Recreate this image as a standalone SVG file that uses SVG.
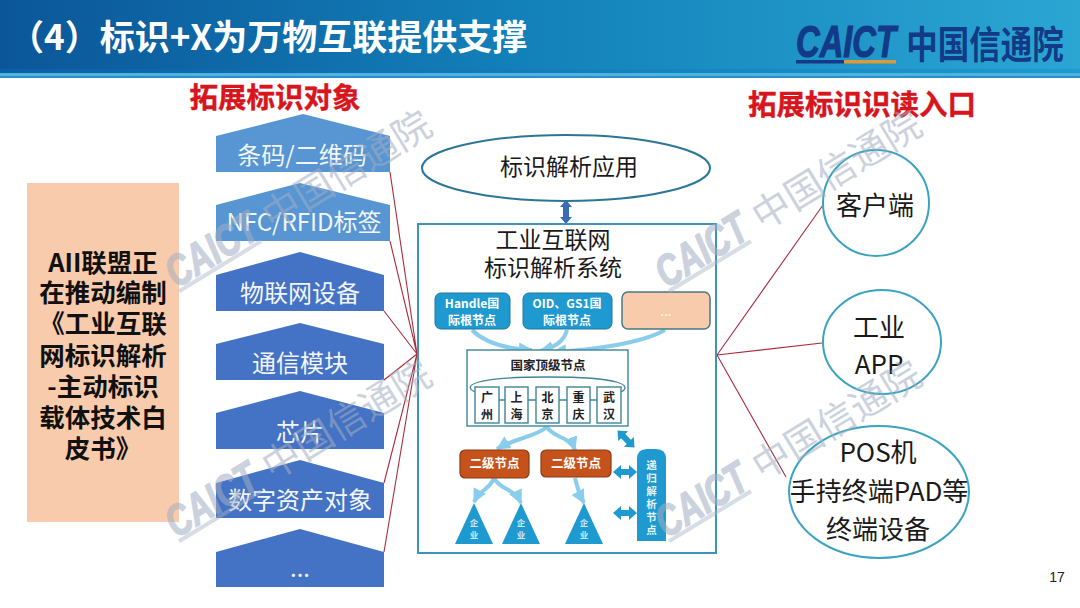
<svg xmlns="http://www.w3.org/2000/svg" width="1080" height="608" viewBox="0 0 1080 608">
<style>
text{font-family:"Noto Sans CJK SC","Noto Sans",sans-serif;text-anchor:middle;dominant-baseline:central}
.blk{fill:#1a1a1a;font-size:26px}
.shp{fill:#f2f6fb;font-size:24px}
.up{fill:#5795d3}
.dn{fill:#4472c4}
.bl{fill:#1f9ad0}
.wh{fill:#fff;font-weight:700}
.head{fill:#d8141c;font-weight:700;font-size:28.5px;stroke:#d8141c;stroke-width:.4}
.ring{fill:#fff;stroke:#3aa3c0;stroke-width:2}
.red{stroke:#aa2c3c;stroke-width:1.1;fill:none}
.flow{stroke:#8accec;stroke-width:4;fill:none;marker-end:url(#tip)}
.city{fill:#fff;stroke:#3f8597;stroke-width:1.4}
.cityt{fill:#222;font-size:12px;font-weight:700}
.ent{fill:#cfe8f5;font-size:8.500px;font-weight:700}
.wm text{fill:#a3aec2;opacity:.55}
</style>
<defs>
<linearGradient id="hd" x1="0" y1="0" x2="1" y2="0"><stop offset="0" stop-color="#0b5699"/><stop offset=".5" stop-color="#1382ba"/><stop offset="1" stop-color="#2ba6d3"/></linearGradient>
<linearGradient id="st" x1="0" y1="0" x2="1" y2="0"><stop offset="0" stop-color="#0c5ea6"/><stop offset="1" stop-color="#1c9ad2"/></linearGradient>
<marker id="tip" markerUnits="userSpaceOnUse" markerWidth="16" markerHeight="14" refX="13" refY="7" orient="auto"><path d="M0 0L14 7L0 14z" fill="#8accec"/></marker>
<path id="dbl" d="M-12 0L-4 -7V-3H4V-7L12 0L4 7V3H-4V7z" fill="#1f9ad0"/>
<path id="dblv" d="M0 -12L6 -5H3V5H6L0 12L-6 5H-3V-5H-6z" fill="#3b6cb0"/>
<g id="mark" class="wm">
<text x="45" y="-20" font-size="44" font-weight="700" font-style="italic" textLength="100" lengthAdjust="spacingAndGlyphs" stroke="#a3aec2" stroke-width="1.500" style="font-family:'Liberation Sans',sans-serif">CAICT</text>
<text x="202" y="-20" font-size="38" textLength="190" lengthAdjust="spacing">中国信通院</text>
<rect x="-4" y="-3" width="96" height="4" fill="#a9b3c6" opacity=".45"/>
</g>
</defs>
<rect width="1080" height="608" fill="#fff"/>
<g id="header">
<rect width="1080" height="69" fill="url(#hd)"/>
<rect y="69" width="1080" height="4" fill="url(#st)"/>
<rect y="73" width="1080" height="3" fill="#4fb2df"/>
<rect y="76" width="1080" height="2" fill="#2a8fc8"/>
<text x="9" y="34" style="text-anchor:start" fill="#fff" font-size="35" font-weight="700">（4）标识+X为万物互联提供支撑</text>
<g id="logo">
<text x="846" y="41" fill="#123a86" font-size="44" font-weight="700" font-style="italic" textLength="100" lengthAdjust="spacingAndGlyphs" stroke="#123a86" stroke-width="1.200" style="font-family:'Liberation Sans',sans-serif">CAICT</text>
<rect x="796" y="60" width="48" height="3.500" fill="#123a86"/>
<rect x="844" y="60" width="52" height="3.500" fill="#dc9a38"/>
<text transform="translate(985 42) scale(1 1.200)" fill="#123a86" font-size="31.500" font-weight="700">中国信通院</text>
</g>
</g>
<g id="connectors">
<path class="red" d="M390 172L417 354M390 241L417 354M384 311L417 354M384 380L417 354M384 483L417 354M384 552L417 354"/>
<path class="red" d="M717 355L823 205M717 355L822 343M717 355L786 477"/>
<path class="flow" d="M472 330C486 344 510 349 532 350"/>
<path class="flow" d="M567 330C564 342 553 348 540 351"/>
<path class="flow" d="M665 330C640 344 590 350 553 352"/>
<path class="flow" d="M547 427C535 437 515 438 497 449"/>
<path class="flow" d="M547 427C553 438 570 436 575 450"/>
<path class="flow" d="M494 478C490 489 480 490 474 502"/>
<path class="flow" d="M494 478C500 490 514 488 521 503"/>
<path class="flow" d="M575 478C577 486 578 492 584 503"/>
<use href="#dblv" transform="translate(566 212)"/>
<use href="#dbl" transform="translate(625 472)"/>
<use href="#dbl" transform="translate(625 513)"/>
<use href="#dbl" transform="translate(626 439) rotate(45)"/>
</g>
<g id="heading-left"><text class="head" x="275" y="95">拓展标识对象</text></g>
<g id="heading-right"><text class="head" x="862" y="102">拓展标识识读入口</text></g>
<g id="white-paper">
<rect x="27" y="183" width="152" height="339" fill="#f7cbac"/>
<g fill="#111" font-size="25.500" font-weight="700">
<text x="103" y="260">AII联盟正</text>
<text x="103" y="290">在推动编制</text>
<text x="103" y="321">《工业互联</text>
<text x="103" y="353">网标识解析</text>
<text x="103" y="384">-主动标识</text>
<text x="103" y="415">载体技术白</text>
<text x="103" y="446">皮书》</text>
</g>
</g>
<g id="obj-1"><path class="up" d="M216 136L303 114L390 136V172H216z"/><text class="shp" x="302" y="153">条码/二维码</text></g>
<g id="obj-2"><path class="up" d="M216 205L300 183L390 205V241H216z"/><text class="shp" x="304" y="220">NFC/RFID标签</text></g>
<g id="obj-3"><path class="dn" d="M216 275L300 252L384 275V311H216z"/><text class="shp" x="300" y="291">物联网设备</text></g>
<g id="obj-4"><path class="dn" d="M216 344L300 323L384 344V380H216z"/><text class="shp" x="300" y="361">通信模块</text></g>
<g id="obj-5"><path class="dn" d="M216 413L300 391L384 413V449H216z"/><text class="shp" x="300" y="430">芯片</text></g>
<g id="obj-6"><path class="dn" d="M216 483L300 460L384 483V518H216z"/><text class="shp" x="300" y="498">数字资产对象</text></g>
<g id="obj-7"><path class="dn" d="M216 552L300 529L384 552V587H216z"/><text class="shp" x="300" y="566">...</text></g>
<g id="app"><ellipse cx="566" cy="168" rx="144" ry="33" fill="#fff" stroke="#2d7596" stroke-width="2"/><text class="blk" x="569" y="165" style="font-size:23px">标识解析应用</text></g>
<g id="system-frame">
<rect x="418" y="224" width="298" height="329" fill="none" stroke="#3f93b8" stroke-width="2"/>
<text x="553" y="238" fill="#1a1a1a" font-size="23">工业互联网</text>
<text x="553" y="266" fill="#1a1a1a" font-size="23">标识解析系统</text>
</g>
<g id="root-handle"><rect x="435" y="293" width="75" height="36" rx="6" class="bl" stroke="#25749c"/><text class="wh" x="472" y="302" font-size="12">Handle国</text><text class="wh" x="472" y="319" font-size="12">际根节点</text></g>
<g id="root-oid"><rect x="523" y="293" width="89" height="36" rx="6" class="bl" stroke="#25749c"/><text class="wh" x="567" y="302" font-size="12">OID、GS1国</text><text class="wh" x="567" y="319" font-size="12">际根节点</text></g>
<g id="root-other"><rect x="622" y="292" width="88" height="37" rx="6" fill="#f7cbac" stroke="#4a7a80" stroke-width="1.500"/><text x="666" y="310" fill="#fff" font-size="13">...</text></g>
<g id="national">
<rect x="467" y="350" width="161" height="76" fill="#fff" stroke="#3f8597" stroke-width="1.400"/>
<text x="548" y="364" fill="#222" font-size="12.500" font-weight="700">国家顶级节点</text>
<path d="M475 392C462 386 472 377 548 377C624 377 632 386 621 392" fill="none" stroke="#3f8597" stroke-width="1.300"/>
<path d="M499 400H505M528 400H536M559 400H567M590 400H597" stroke="#3f8597" stroke-width="1.300"/>
<g id="city-gz"><rect class="city" x="475" y="387" width="24" height="36"/><text class="cityt" x="487" y="396">广</text><text class="cityt" x="487" y="413">州</text></g>
<g id="city-sh"><rect class="city" x="505" y="387" width="23" height="36"/><text class="cityt" x="516.500" y="396">上</text><text class="cityt" x="516.500" y="413">海</text></g>
<g id="city-bj"><rect class="city" x="536" y="387" width="23" height="36"/><text class="cityt" x="547.500" y="396">北</text><text class="cityt" x="547.500" y="413">京</text></g>
<g id="city-cq"><rect class="city" x="567" y="387" width="23" height="36"/><text class="cityt" x="578.500" y="396">重</text><text class="cityt" x="578.500" y="413">庆</text></g>
<g id="city-wh"><rect class="city" x="597" y="387" width="24" height="36"/><text class="cityt" x="609" y="396">武</text><text class="cityt" x="609" y="413">汉</text></g>
</g>
<g id="second-1"><rect x="460" y="450" width="69" height="28" rx="5" fill="#c5521a" stroke="#8a3a14" stroke-width="1.200"/><text class="wh" x="494.500" y="462" font-size="12.500">二级节点</text></g>
<g id="second-2"><rect x="541" y="450" width="70" height="27" rx="5" fill="#c5521a" stroke="#8a3a14" stroke-width="1.200"/><text class="wh" x="576" y="462" font-size="12.500">二级节点</text></g>
<g id="ent-1"><path class="bl" d="M474 503L493 544H455z"/><text class="ent" x="474" y="522">企</text><text class="ent" x="474" y="534">业</text></g>
<g id="ent-2"><path class="bl" d="M521 503L540 544H502z"/><text class="ent" x="521" y="522">企</text><text class="ent" x="521" y="534">业</text></g>
<g id="ent-3"><path class="bl" d="M584 503L603 544H565z"/><text class="ent" x="584" y="522">企</text><text class="ent" x="584" y="534">业</text></g>
<g id="recursive">
<path class="bl" d="M637 459Q637 449 647 449H656Q666 449 666 459V541H637z"/>
<g fill="#e6f4fb" font-size="10.500" font-weight="700">
<text x="651.500" y="464">递</text><text x="651.500" y="477">归</text><text x="651.500" y="490">解</text><text x="651.500" y="503">析</text><text x="651.500" y="516">节</text><text x="651.500" y="529">点</text>
</g>
</g>
<g id="entry-client"><circle class="ring" cx="876" cy="203" r="53"/><text class="blk" x="875" y="203">客户端</text></g>
<g id="entry-app"><ellipse class="ring" cx="882" cy="342" rx="59" ry="52"/><text class="blk" x="879" y="325">工业</text><text class="blk" x="879" y="362">APP</text></g>
<g id="entry-pos"><ellipse class="ring" cx="879" cy="492" rx="90" ry="66"/><text class="blk" x="878" y="450">POS机</text><text class="blk" x="879" y="489">手持终端PAD等</text><text class="blk" x="878" y="527">终端设备</text></g>
<g id="page"><text x="1057" y="577" fill="#222" font-size="14" style="font-family:'Liberation Sans',sans-serif">17</text></g>
<g id="watermarks">
<use href="#mark" transform="translate(183 290) rotate(-31.400)"/>
<use href="#mark" transform="translate(673 290) rotate(-31.400)"/>
<use href="#mark" transform="translate(183 540) rotate(-31.400)"/>
<use href="#mark" transform="translate(673 540) rotate(-31.400)"/>
</g>
</svg>
